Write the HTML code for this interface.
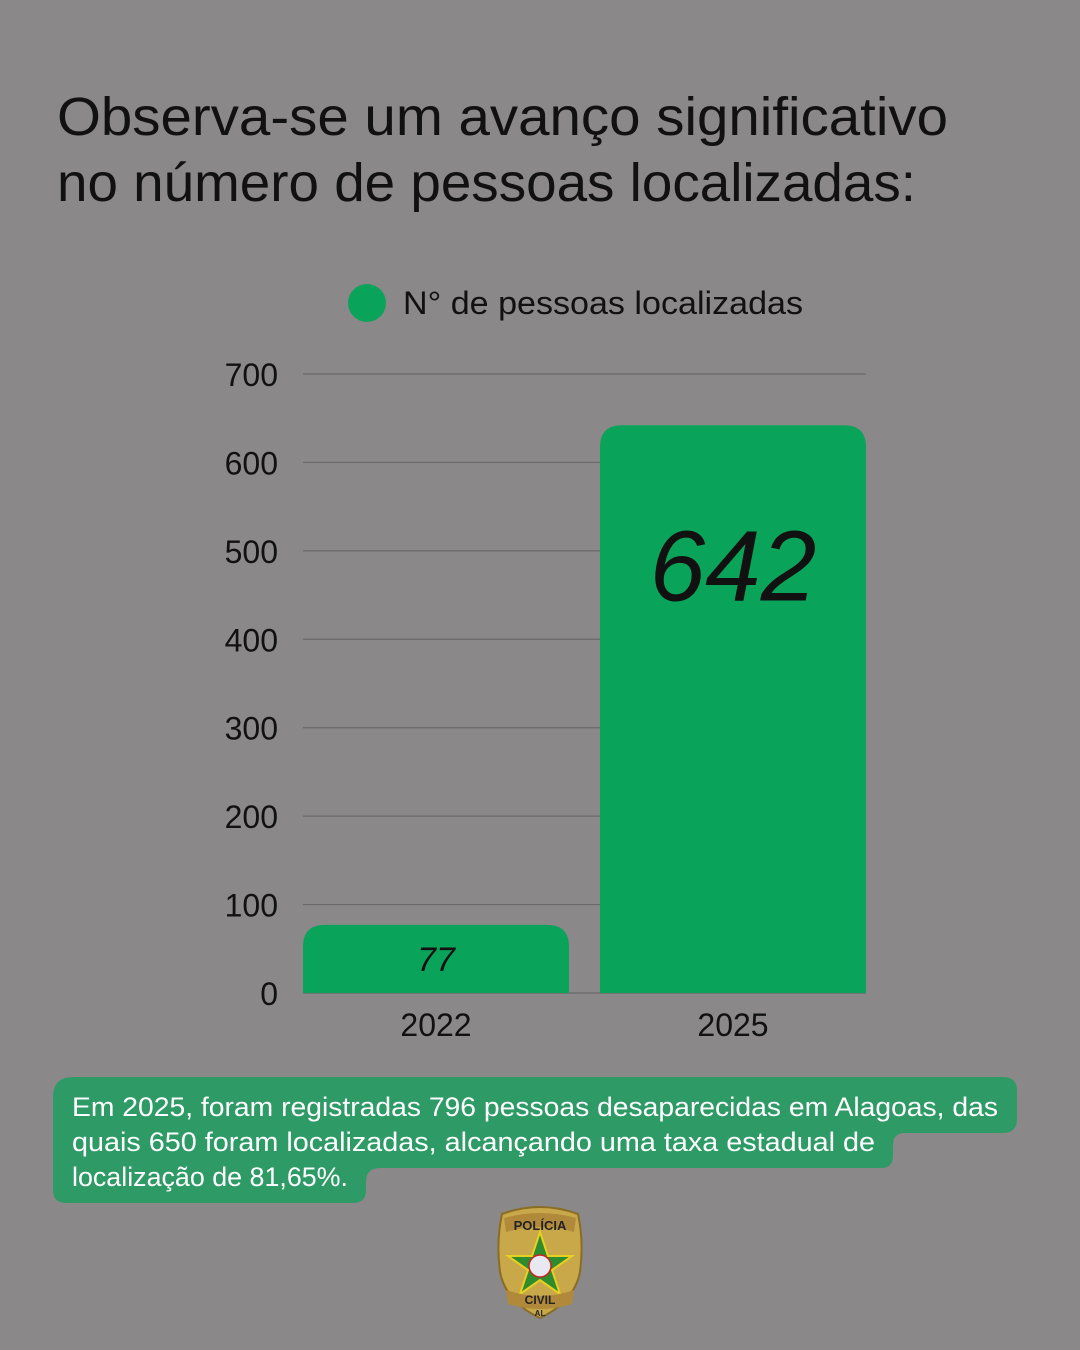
<!DOCTYPE html>
<html><head><meta charset="utf-8"><style>
html,body{margin:0;padding:0;background:#8a8889;}
svg{display:block;font-family:"Liberation Sans",sans-serif;}
</style></head><body>
<svg id="chart" width="1080" height="1350" viewBox="0 0 1080 1350">
<rect width="1080" height="1350" fill="#8a8889"/>
<g fill="#111" font-size="54">
<text x="57" y="135" textLength="891" lengthAdjust="spacingAndGlyphs">Observa-se um avanço significativo</text>
<text x="57" y="201" textLength="859" lengthAdjust="spacingAndGlyphs">no número de pessoas localizadas:</text>
</g>
<g>
<circle cx="367" cy="303" r="19" fill="#0aa35a"/>
<text x="403" y="314" font-size="32" fill="#111" textLength="400" lengthAdjust="spacingAndGlyphs">N° de pessoas localizadas</text>
</g>
<g id="grid"></g>
<g id="yticks"></g>
<g id="bars"></g>
<g id="xticks"></g>
<g>
<path fill="#2e9b66" d="M53 1097 Q53 1077 73 1077 L1003 1077 Q1017 1077 1017 1091 L1017 1119 Q1017 1133 1003 1133 L905 1133 Q893 1133 893 1145 L893 1156 Q893 1168 881 1168 L380 1168 Q366 1168 366 1182 L366 1190 Q366 1203 353 1203 L66 1203 Q53 1203 53 1190 Z"/>
<g fill="#fff" font-size="27">
<text x="72" y="1116" textLength="926" lengthAdjust="spacingAndGlyphs">Em 2025, foram registradas 796 pessoas desaparecidas em Alagoas, das</text>
<text x="72" y="1151" textLength="803" lengthAdjust="spacingAndGlyphs">quais 650 foram localizadas, alcançando uma taxa estadual de</text>
<text x="72" y="1186" textLength="276" lengthAdjust="spacingAndGlyphs">localização de 81,65%.</text>
</g>
</g>
<g transform="translate(540,1262)">
<path d="M-38 -48 Q0 -62 38 -48 Q44 -20 40 10 Q34 40 0 56 Q-34 40 -40 10 Q-44 -20 -38 -48 Z" fill="#c9a84a" stroke="#8a6d25" stroke-width="2"/>
<path d="M-36 -44 Q0 -54 36 -44 L34 -30 Q0 -40 -34 -30 Z" fill="#b08a3a"/>
<text x="0" y="-32" font-size="13" font-weight="bold" text-anchor="middle" fill="#222">POLÍCIA</text>
<polygon points="0,-30 8,-6 32,-6 12,8 20,32 0,18 -20,32 -12,8 -32,-6 -8,-6" fill="#2e8b2e" stroke="#e8d020" stroke-width="2"/>
<circle cx="0" cy="4" r="11" fill="#e8e8f0" stroke="#c22" stroke-width="1.5"/>
<path d="M-34 28 Q0 40 34 28 L32 42 Q0 52 -32 42 Z" fill="#b08a3a"/>
<text x="0" y="42" font-size="12" font-weight="bold" text-anchor="middle" fill="#222">CIVIL</text>
<text x="0" y="54" font-size="8" font-weight="bold" text-anchor="middle" fill="#222">AL</text>
</g>
</svg>
<script>
const categories = ["2022", "2025"];
const values = [77, 642];
const yTicks = [0, 100, 200, 300, 400, 500, 600, 700];
const NS = "http://www.w3.org/2000/svg";
const y0 = 993, yTop = 374, yMax = 700;
function yScale(v){ return y0 - (v / yMax) * (y0 - yTop); }
const plotL = 303, plotR = 866, barW = 266;
function xLeft(i){ const n = categories.length; return n > 1 ? plotL + i * (plotR - plotL - barW) / (n - 1) : plotL; }
function mk(tag, attrs, parent){ const e = document.createElementNS(NS, tag); for (const k in attrs) e.setAttribute(k, attrs[k]); parent.appendChild(e); return e; }
const grid = document.getElementById('grid'), yt = document.getElementById('yticks');
yTicks.forEach(t => {
  const l = mk('line', {x1: plotL, x2: plotR, y1: yScale(t), y2: yScale(t), stroke: '#6a6869', 'stroke-width': 1.2}, grid);
  
  
  const tx = mk('text', {x: 278, y: yScale(t) + 12, 'text-anchor': 'end', 'font-size': 32, fill: '#111'}, yt);
  tx.textContent = t;
  
  
});
const bars = document.getElementById('bars'), xt = document.getElementById('xticks');
categories.forEach((c, i) => {
  const x = xLeft(i), cx = x + barW / 2, top = yScale(values[i]), r = 22;
  const h = y0 - top, rr = Math.min(r, h);
  const p = mk('path', {d: `M${x} ${y0} L${x} ${top + rr} Q${x} ${top} ${x + rr} ${top} L${x + barW - rr} ${top} Q${x + barW} ${top} ${x + barW} ${top + rr} L${x + barW} ${y0} Z`, fill: '#0aa35a'}, bars);
  
  
  const big = values[i] > 300;
  const lbl = mk('text', {x: cx, y: big ? top + 175 : top + 46, 'text-anchor': 'middle', 'font-size': big ? 100 : 34, 'font-style': 'italic', fill: '#111'}, bars);
  lbl.textContent = values[i];
  
  
  const xl = mk('text', {x: cx, y: 1036, 'text-anchor': 'middle', 'font-size': 32, fill: '#111'}, xt);
  xl.textContent = c;
  
  
});
</script>
</body></html>
